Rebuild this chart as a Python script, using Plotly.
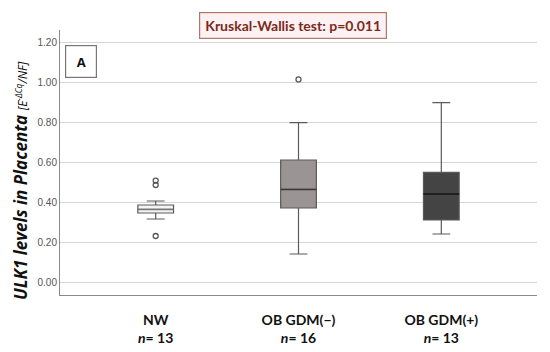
import plotly.graph_objects as go

categories = ["NW", "OB GDM(−)", "OB GDM(+)"]
n_values = [13, 16, 13]
q1 = [0.345, 0.37, 0.31]
median = [0.363, 0.463, 0.44]
q3 = [0.385, 0.61, 0.548]
lower_whisker = [0.315, 0.14, 0.24]
upper_whisker = [0.405, 0.797, 0.897]
fill_colors = ["#f4f4f4", "#9b9494", "#444444"]
median_colors = ["#777777", "#3a3a3a", "#111111"]

outlier_group = [0, 0, 0, 1]
outlier_values = [0.485, 0.507, 0.23, 1.013]

y_ticks = [0.0, 0.2, 0.4, 0.6, 0.8, 1.0, 1.2]

fig = go.Figure()
for i, cat in enumerate(categories):
    fig.add_trace(go.Box(
        x=[i], q1=[q1[i]], median=[median[i]], q3=[q3[i]],
        lowerfence=[lower_whisker[i]], upperfence=[upper_whisker[i]],
        fillcolor=fill_colors[i], line=dict(color="#5a5a5a", width=1.2),
        width=0.25, whiskerwidth=0.5, showlegend=False, boxpoints=False,
    ))
    fig.add_trace(go.Scatter(
        x=[i - 0.125, i + 0.125], y=[median[i], median[i]], mode="lines",
        line=dict(color=median_colors[i], width=1.5), showlegend=False, hoverinfo="skip",
    ))

fig.add_trace(go.Scatter(
    x=outlier_group, y=outlier_values, mode="markers",
    marker=dict(symbol="circle-open", size=5, color="#555555", line=dict(width=1.3)),
    showlegend=False,
))

ticktext = [f"<b>{c}</b><br><b><i>n</i>= {n}</b>" for c, n in zip(categories, n_values)]

# page has an 8px body offset; plot area lands at page x 60..537, y 30..295
fig.update_layout(
    width=550, height=352,
    margin=dict(l=52, r=21, t=22, b=65),
    paper_bgcolor="white", plot_bgcolor="white",
    font=dict(family="Open Sans, Arial, sans-serif"),
    xaxis=dict(
        range=[-0.67, 2.67], tickvals=[0, 1, 2], ticktext=ticktext,
        showgrid=False, zeroline=False, showline=True, linecolor="#8a8a8a", linewidth=1,
        ticks="", automargin=False, ticklabelstandoff=12,
        tickfont=dict(size=14, color="#111111", family="Lato, sans-serif"),
    ),
    yaxis=dict(
        range=[-0.065, 1.26], tickvals=y_ticks,
        ticktext=[f"{v:.2f}" for v in y_ticks],
        showgrid=True, gridcolor="#d6d6d6", gridwidth=1,
        zeroline=False, showline=True, linecolor="#8a8a8a", linewidth=1,
        ticks="", automargin=False,
        tickfont=dict(size=10, color="#555555", family="Arial, Liberation Sans, sans-serif"),
    ),
    annotations=[
        dict(
            text="<b><i>ULK1 levels in Placenta</i></b> <i><span style='font-size:12px'>[E<sup>-ΔCq</sup>/NF]</span></i>",
            xref="paper", yref="paper", x=(20 - 60) / 477, y=1 - (181 - 30) / 265,
            textangle=-90, showarrow=False, xanchor="center", yanchor="middle",
            font=dict(size=17, color="#111111", family="Open Sans, sans-serif"),
        ),
        dict(
            text="<b>Kruskal-Wallis test: p=0.011</b>", xref="paper", yref="paper",
            x=(293 - 60) / 477, y=1 + (30 - 25) / 265, showarrow=False,
            font=dict(size=14, color="#7a2a1a", family="Lato, sans-serif"),
            bgcolor="#fdf1f3", bordercolor="#b07868", borderwidth=1.2,
            width=184, height=23, xanchor="center", yanchor="middle",
        ),
        dict(
            text="<b>A</b>", xref="paper", yref="paper",
            x=(81 - 60) / 477, y=1 - (62 - 30) / 265, showarrow=False,
            font=dict(size=13, color="#111111", family="Open Sans, sans-serif"),
            bgcolor="white", bordercolor="#777777", borderwidth=1.2,
            width=28, height=29, xanchor="center", yanchor="middle",
        ),
    ],
)

fig.write_html("out.html")
